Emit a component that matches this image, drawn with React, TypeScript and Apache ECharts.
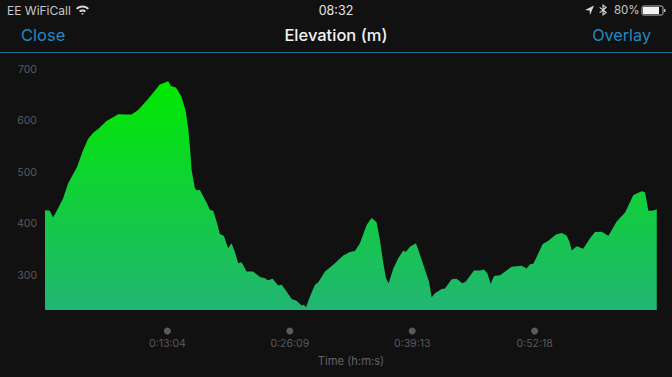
import React, { useEffect, useRef } from "react";
import * as echarts from "echarts";

const timeSeconds = [0,31,52,84,116,148,170,206,244,276,309,341,394,437,469,512,555,597,651,704,736,790,807,839,875,903,918,929,940,961,972,993,1018,1040,1057,1078,1100,1121,1147,1174,1196,1217,1239,1260,1292,1333,1378,1410,1429,1459,1495,1517,1549,1581,1613,1645,1660,1673,1698,1731,1752,1795,1848,1912,1955,1987,2019,2062,2094,2126,2147,2169,2186,2203,2233,2265,2297,2312,2340,2378,2415,2462,2479,2500,2543,2564,2607,2639,2675,2697,2750,2789,2814,2836,2857,2879,2917,2992,3056,3088,3110,3131,3191,3227,3276,3313,3345,3362,3377,3409,3451,3494,3526,3569,3612,3665,3719,3772,3826,3847,3868,3900,3922];
const elevationMetres = [426,425,412,430,449,478,491,511,543,565,577,584,600,607,613,612.5,612.5,621,639,658.5,671,677,668,665,647,618,585,550,504,469,465,465.5,451,439,426.5,425,404,380,376,352,362,345.5,323,325,307,307,296,294,290,293,279.5,281,268,253.5,250,240.6,242,237,258,281,286,307,320,338,345,347,362,397.5,411,403,368,323,294,284,313,332.6,347.6,345,355,362,329.4,287,257,264.6,273,274,292,293,284,287,309,308.7,311,303.5,282.7,298,299.6,316.4,318,313,321,322,360.5,367,378.7,382,376.7,365,348,356,351,371.5,384,384.5,376.7,404,421.5,456,463,461,425,425.4,428];
const tickSeconds = [784.7, 1569.4, 2354.1, 3138.8];
const tickLabels = ["0:13:04", "0:26:09", "0:39:13", "0:52:18"];
const elevationTicks = [300, 400, 500, 600, 700];
const axisMin = 232;
const axisMax = 700;
const xMax = 3923.5;
const dotLevel = 191;

const FONT = "Inter, Roboto, sans-serif";

echarts.graphic.registerShape("wifiIcon", echarts.graphic.extendPath(
  "M0 3.2 C3.4 -0.4 9.6 -0.4 13 3.2 L11.6 4.6 C8.8 1.8 4.2 1.8 1.4 4.6 Z M3 6 C5 4.1 8 4.1 10 6 L8.6 7.3 C7.4 6.2 5.6 6.2 4.4 7.3 Z M6.5 10 L5.2 8.6 C6 8 7 8 7.8 8.6 Z", {}));
echarts.graphic.registerShape("arrowIcon", echarts.graphic.extendPath(
  "M9 0 L0 4.6 L4.6 5 L5 9.6 Z", {}));
echarts.graphic.registerShape("btIcon", echarts.graphic.extendPath(
  "M3.5 0 L8 3.5 L5 6 L8 8.5 L3.5 12 L3.5 7 L1 9 L0.3 8.2 L3.3 6 L0.3 3.8 L1 3 L3.5 5 Z M4.6 2.2 L4.6 4.6 L6.2 3.5 Z M4.6 7.4 L4.6 9.8 L6.2 8.5 Z", {}));

export default function App() {
  const ref = useRef<HTMLDivElement>(null);
  useEffect(() => {
    document.body.style.margin = "0";
    document.body.style.background = "#111112";
    const chart = echarts.init(ref.current!, undefined, { renderer: "svg" });
    const txt = (x: number, y: number, text: string, fill: string, fontSize: number, align = "left", weight: any = 400) => ({
      type: "text", x, y, silent: true,
      style: { text, fill, fontSize, fontFamily: FONT, fontWeight: weight, textAlign: align, textVerticalAlign: "middle" },
    });
    chart.setOption({
      animation: false,
      backgroundColor: "#111112",
      grid: { left: 45, right: 15, top: 69.5, bottom: 67 },
      xAxis: {
        type: "value", min: 0, max: xMax,
        splitLine: { show: false }, axisLine: { show: false }, axisTick: { show: false },
        name: "Time (h:m:s)", nameLocation: "middle", nameGap: 45,
        nameTextStyle: { color: "#636365", fontSize: 11.2, fontFamily: FONT },
        axisLabel: {
          customValues: tickSeconds, margin: 28, color: "#59595b", fontSize: 10.5, fontFamily: FONT,
          formatter: (v: number) => tickLabels[tickSeconds.indexOf(v)] ?? "",
        },
      },
      yAxis: {
        type: "value", min: axisMin, max: axisMax,
        splitLine: { show: false }, axisLine: { show: false }, axisTick: { show: false },
        axisLabel: { customValues: elevationTicks, margin: 8, color: "#59595b", fontSize: 10.5, fontFamily: FONT },
      },
      series: [
        {
          type: "line", data: timeSeconds.map((t, i) => [t, elevationMetres[i]]),
          showSymbol: false, lineStyle: { width: 0 }, silent: true,
          areaStyle: {
            opacity: 1,
            color: new echarts.graphic.LinearGradient(0, 0, 0, 1, [
              { offset: 0, color: "#00e900" },
              { offset: 1, color: "#21b573" },
            ]),
          },
        },
        {
          type: "scatter", clip: false, symbolSize: 7, silent: true,
          itemStyle: { color: "#6e6e70" },
          data: tickSeconds.map((t) => [t, dotLevel]),
        },
      ],
      graphic: [
        txt(7, 10, "EE WiFiCall", "#c8c8c8", 12),
        { type: "wifiIcon", x: 76, y: 5, style: { fill: "#d8d8d8" }, silent: true },
        txt(336, 10, "08:32", "#e6e6e6", 12.5, "center"),
        { type: "arrowIcon", x: 585, y: 5.5, style: { fill: "#d8d8d8" }, silent: true },
        { type: "btIcon", x: 599, y: 4, style: { fill: "#d8d8d8" }, silent: true },
        txt(614, 10, "80%", "#c8c8c8", 11.5),
        { type: "rect", x: 642, y: 6, shape: { width: 21, height: 9, r: 1.5 }, style: { fill: "none", stroke: "#bbbbbb", lineWidth: 1 }, silent: true },
        { type: "rect", x: 643, y: 7, shape: { width: 16, height: 7 }, style: { fill: "#f2f2f2" }, silent: true },
        { type: "rect", x: 664, y: 9, shape: { width: 1.5, height: 3 }, style: { fill: "#bbbbbb" }, silent: true },
        txt(21, 35, "Close", "#2388c0", 16.5),
        txt(336, 35, "Elevation (m)", "#f2f2f2", 16.5, "center", 500),
        txt(651, 35, "Overlay", "#2388c0", 16.2, "right"),
        { type: "rect", x: 0, y: 52, shape: { width: 672, height: 1 }, style: { fill: "#1f6f98" }, silent: true },
      ],
    });
    return () => chart.dispose();
  }, []);
  return <div ref={ref} style={{ position: "absolute", left: 0, top: 0, width: 672, height: 377 }} />;
}
